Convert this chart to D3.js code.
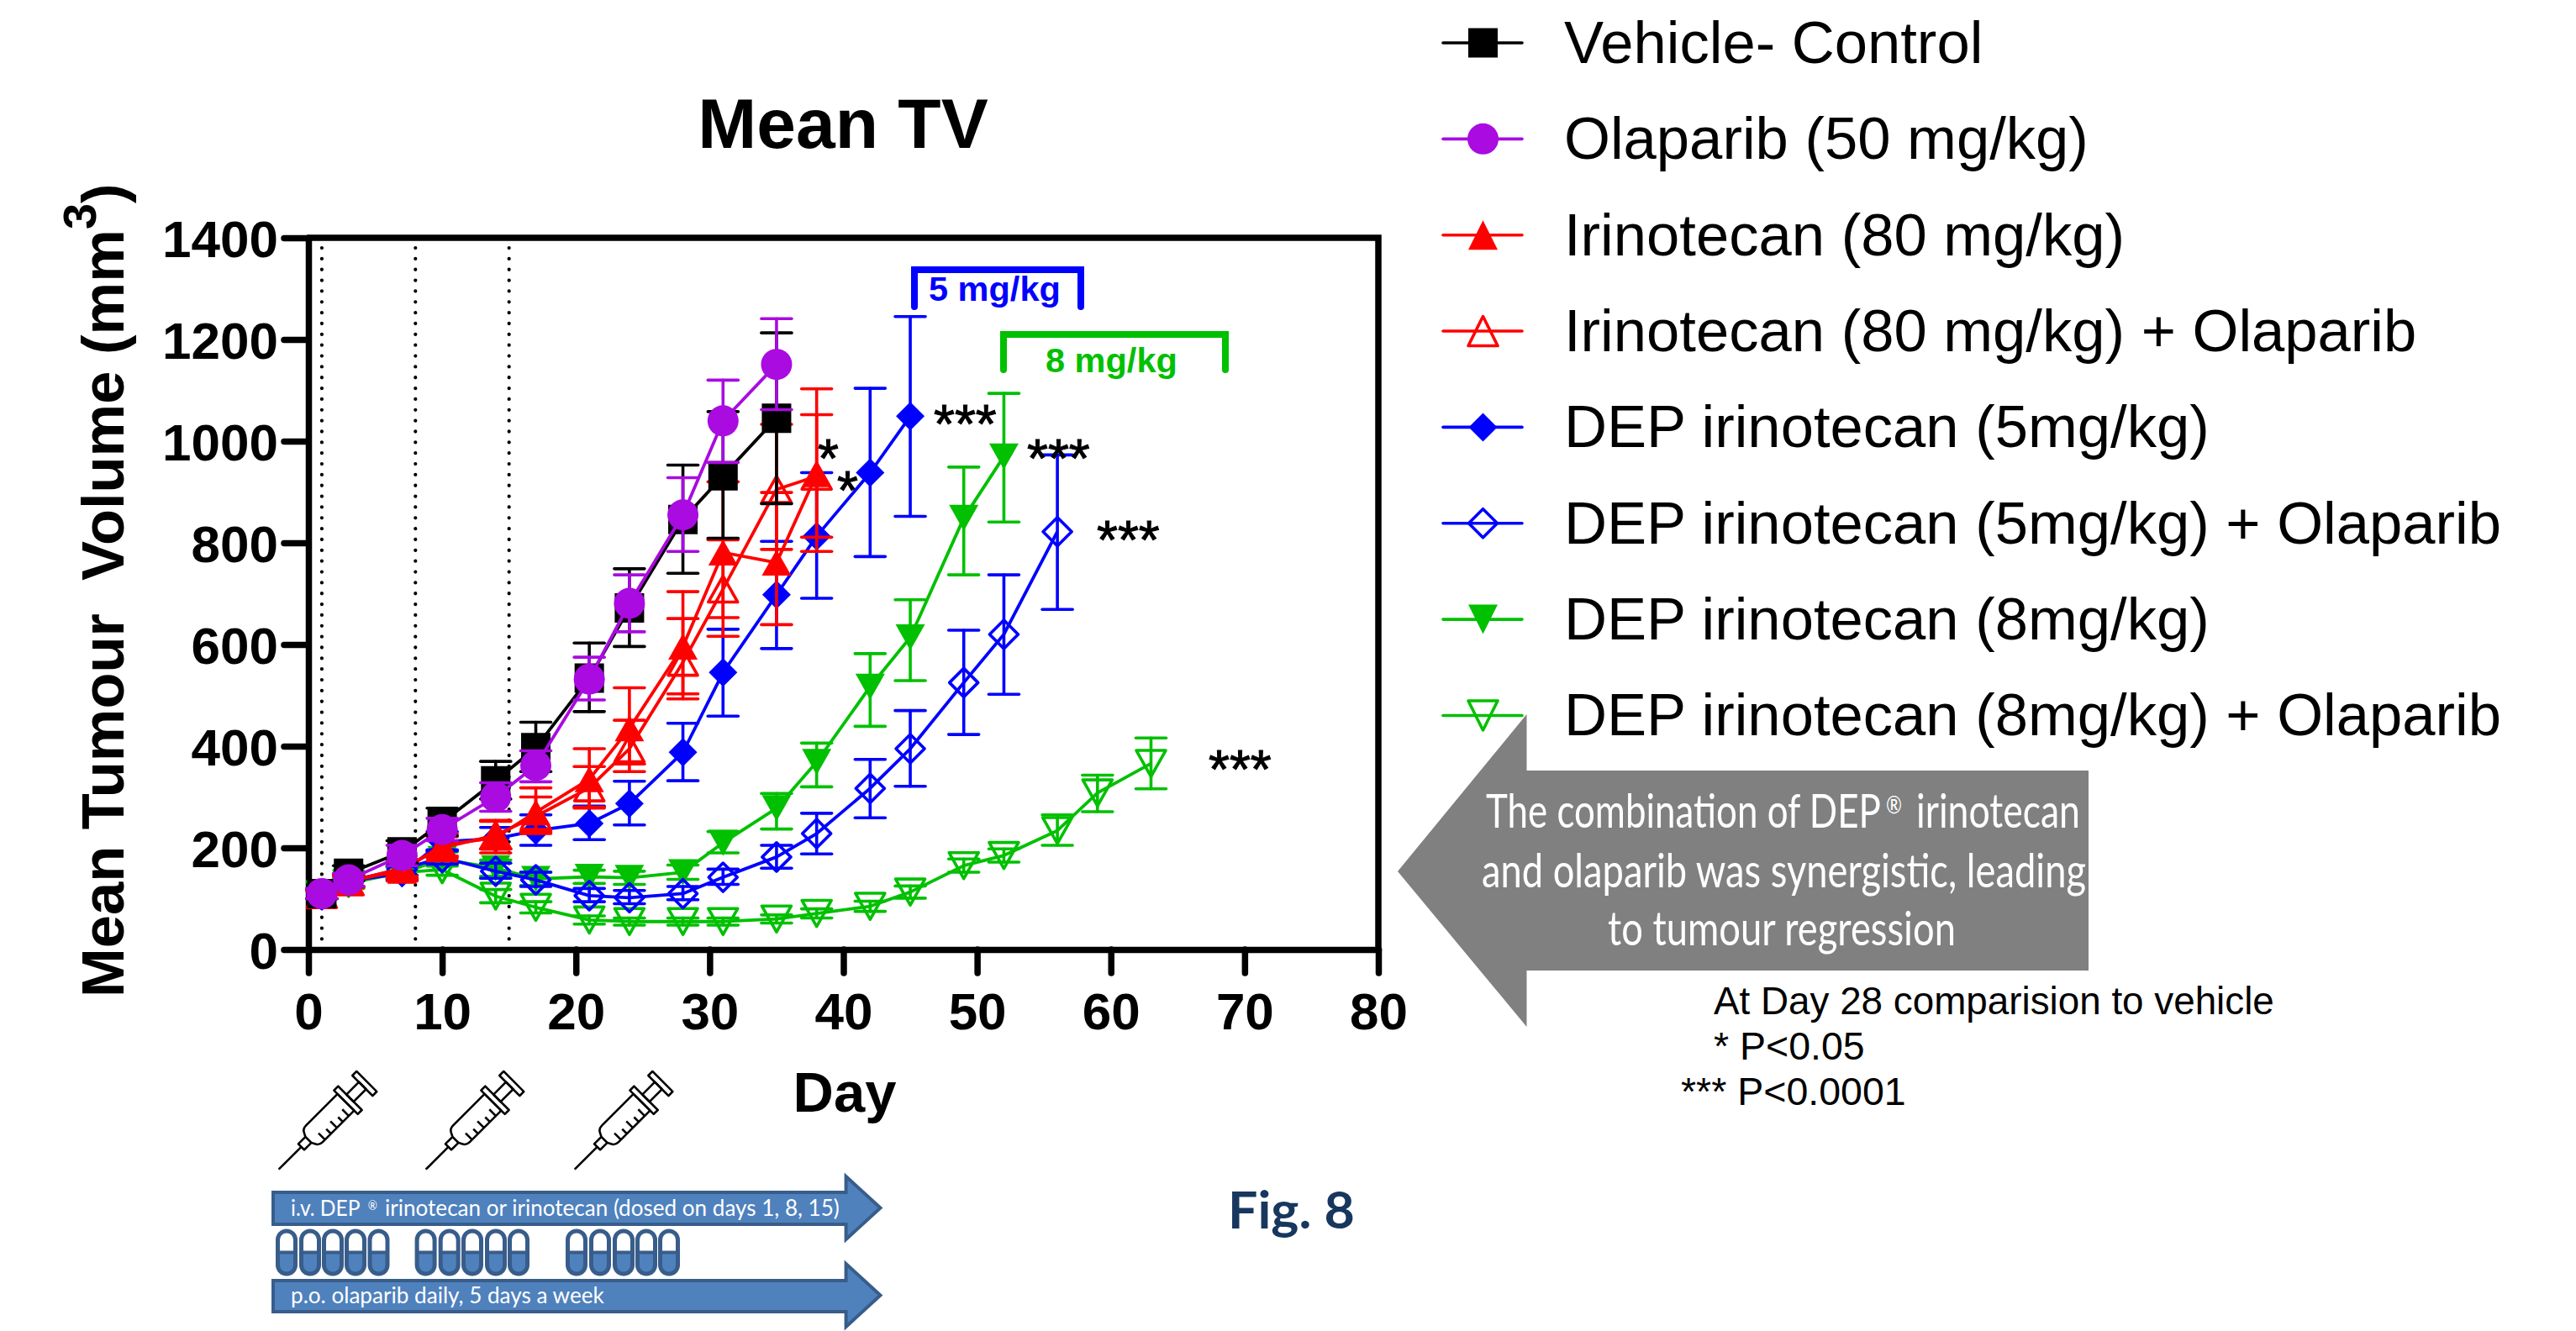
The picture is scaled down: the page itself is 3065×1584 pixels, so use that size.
<!DOCTYPE html>
<html><head><meta charset="utf-8">
<script src="https://cdn.jsdelivr.net/npm/d3@7"></script>
<style>html,body{margin:0;padding:0;background:#fff;overflow:hidden}svg{display:block}text{font-family:"Liberation Sans",Arial,sans-serif;white-space:pre}</style>
</head><body><svg id="c" width="3065" height="1584" xmlns="http://www.w3.org/2000/svg"></svg>
<script>
// ---- data ----
const days = [1,3,7,10,14,17,21,24,28,31,35,38,42,45,49,52,56,59,63];
const xTicks = [0,10,20,30,40,50,60,70,80];
const yTicks = [0,200,400,600,800,1000,1200,1400];
const doseDays = [1,8,15];

const vehicleMean = [110,150,192,250,332,397,534,672,846,932,1045];
const vehicleHi   = [120,165,214,278,370,447,603,749,953,1058,1213];
const vehicleLo   = [100,135,170,224,296,350,468,596,740,809,877];

const olaparibMean = [110,137,185,236,300,362,532,681,855,1040,1151];
const olaparibHi   = [120,150,205,258,328,391,575,737,928,1120,1241];
const olaparibLo   = [100,124,165,214,272,330,491,625,783,958,1062];

const irinoMean = [108,135,155,205,220,270,335,435,596,781,761,935];
const irinoHi   = [116,146,172,228,252,318,395,515,704,920,899,1103];
const irinoLo   = [100,124,140,184,190,232,280,365,493,616,639,783];

const irinoOlaMean = [108,133,160,200,225,262,318,395,565,709,905,931];
const irinoOlaHi   = [116,144,176,222,254,300,360,451,651,806,1033,1052];
const irinoOlaLo   = [100,122,144,180,198,228,278,350,503,653,787,811];

const dep5Mean = [108,135,150,212,218,234,248,287,388,545,698,813,938,1049];
const dep5Hi   = [116,146,164,232,240,265,282,331,445,630,803,938,1104,1245];
const dep5Lo   = [100,124,136,194,198,205,216,245,332,459,592,691,773,852];

const dep5OlaMean = [108,135,158,181,154,137,106,102,110,142,182,228,317,395,525,620,822];
const dep5OlaHi   = [116,146,170,196,170,152,120,116,124,158,205,268,374,470,628,737,973];
const dep5OlaLo   = [100,124,146,168,140,124,94,90,98,128,160,188,259,321,423,502,669];

const dep8Mean = [108,135,150,178,160,139,143,141,152,210,278,369,517,614,849,970];
const dep8Hi   = [116,146,162,192,176,152,156,154,166,232,307,406,582,688,949,1094];
const dep8Lo   = [100,124,138,164,144,126,130,128,138,190,237,320,439,529,737,841];

const dep8OlaMean = [108,130,152,157,105,83,58,55,55,55,60,71,85,113,165,185,234,308,366];
const dep8OlaHi   = [116,140,162,168,118,94,66,62,62,62,68,80,95,125,178,198,265,343,416];
const dep8OlaLo   = [100,120,142,146,92,72,50,48,48,48,52,62,75,101,152,172,205,271,316];

const legendLabels = ["Vehicle- Control","Olaparib (50 mg/kg)","Irinotecan (80 mg/kg)","Irinotecan (80 mg/kg) + Olaparib","DEP irinotecan (5mg/kg)","DEP irinotecan (5mg/kg) + Olaparib","DEP irinotecan (8mg/kg)","DEP irinotecan (8mg/kg) + Olaparib"];
const seriesColors = ["#000000","#A90BE0","#FF0000","#FF0000","#0000FF","#0000FF","#00C000","#00C000"];
const seriesShapes = ["square","circle","up","up","diamond","diamond","down","down"];
const seriesOpen = [false,false,false,true,false,true,false,true];
const seriesMeans = [vehicleMean,olaparibMean,irinoMean,irinoOlaMean,dep5Mean,dep5OlaMean,dep8Mean,dep8OlaMean];
const seriesHi = [vehicleHi,olaparibHi,irinoHi,irinoOlaHi,dep5Hi,dep5OlaHi,dep8Hi,dep8OlaHi];
const seriesLo = [vehicleLo,olaparibLo,irinoLo,irinoOlaLo,dep5Lo,dep5OlaLo,dep8Lo,dep8OlaLo];
const drawOrder = [7,6,5,4,3,2,0,1];
const noteLines = ["At Day 28 comparision to vehicle","* P<0.05","*** P<0.0001"];
const pillGroups = [[341,369,396,423,450.5],[506.6,534.7,562,590,617],[686,714,742,769,796]];
const syringeTipsX = [331.6,506.6,683.7];

// ---- layout ----
const svg = d3.select("#c");
const L=367,R=1640,T=283,B=1130;
const x = d3.scaleLinear().domain([0,80]).range([L,R]);
const y = d3.scaleLinear().domain([0,1400]).range([B,T]);
const bold = 700;

function tri(w,h,dir){const s=dir==="up"?1:-1;return `M0,${-s*h/2}L${w/2},${s*h/2}L${-w/2},${s*h/2}Z`;}
function shapePath(shape,big){
  if(shape==="square") return "M-17.5,-17.5H17.5V17.5H-17.5Z";
  if(shape==="circle") return d3.arc()({innerRadius:0,outerRadius:18.5,startAngle:0,endAngle:7});
  if(shape==="diamond") return "M0,-17L17,0L0,17L-17,0Z";
  return tri(35,big?35:31,shape);
}

// dotted dosing lines
svg.append("g").selectAll("line").data(doseDays).join("line")
  .attr("x1",d=>x(d)).attr("x2",d=>x(d)).attr("y1",295).attr("y2",B-2)
  .attr("stroke","#000").attr("stroke-width",4.2).attr("stroke-linecap","round").attr("stroke-dasharray","0.1 12.75");

// axes
const gy = svg.append("g").attr("transform",`translate(${L},0)`)
  .call(d3.axisLeft(y).tickValues(yTicks).tickFormat(d3.format("d")).tickSizeInner(29).tickSizeOuter(0).tickPadding(7));
const gx = svg.append("g").attr("transform",`translate(0,${B})`)
  .call(d3.axisBottom(x).tickValues(xTicks).tickFormat(d3.format("d")).tickSizeInner(28).tickSizeOuter(0).tickPadding(23));
[gx,gy].forEach(g=>{
  g.selectAll("line,path").attr("stroke","#000").attr("stroke-width",7.5).attr("stroke-linecap","round");
  g.selectAll("text").attr("fill","#000").attr("font-size",62).attr("font-weight",bold).style("font-family",'"Liberation Sans"');
});
gy.selectAll("text").attr("dy","0.36em");
svg.append("path").attr("d",`M${L},${y(1400)}H${x(80)}V${B}`).attr("fill","none").attr("stroke","#000").attr("stroke-width",7.5).attr("stroke-linecap","round");

// series, last dataset at the bottom
const line = d3.line();
drawOrder.forEach(i=>{
  const col=seriesColors[i], m=seriesMeans[i], open=seriesOpen[i];
  const g=svg.append("g");
  const pts=m.map((v,k)=>({d:days[k],v,hi:seriesHi[i][k],lo:seriesLo[i][k]}));
  g.append("path").attr("d",line(pts.map(p=>[x(p.d),y(p.v)]))).attr("fill","none").attr("stroke",col).attr("stroke-width",3.8).attr("stroke-linejoin","round");
  const e=g.append("g").selectAll("g").data(pts).join("g").attr("stroke",col).attr("stroke-width",3.6).attr("stroke-linecap","round");
  e.append("line").attr("x1",p=>x(p.d)).attr("x2",p=>x(p.d)).attr("y1",p=>y(p.hi)).attr("y2",p=>y(p.lo));
  e.append("line").attr("x1",p=>x(p.d)-18).attr("x2",p=>x(p.d)+18).attr("y1",p=>y(p.hi)).attr("y2",p=>y(p.hi));
  e.append("line").attr("x1",p=>x(p.d)-18).attr("x2",p=>x(p.d)+18).attr("y1",p=>y(p.lo)).attr("y2",p=>y(p.lo));
  g.append("g").selectAll("path").data(pts).join("path")
    .attr("transform",p=>`translate(${x(p.d)},${y(p.v)})`)
    .attr("d",shapePath(seriesShapes[i],false))
    .attr("fill",open?"none":col).attr("stroke",open?col:"none").attr("stroke-width",3.6).attr("stroke-linejoin","round");
});

// titles
svg.append("text").attr("x",1003).attr("y",176).attr("text-anchor","middle").attr("font-size",84).attr("font-weight",bold).text("Mean TV");
svg.append("text").attr("x",1005).attr("y",1323).attr("text-anchor","middle").attr("font-size",67).attr("font-weight",bold).text("Day");
const yt=svg.append("text").attr("transform","translate(147,1187) rotate(-90)").attr("font-size",70.5).attr("font-weight",bold);
yt.append("tspan").text("Mean Tumour  Volume (mm");
yt.append("tspan").attr("dy",-33).attr("font-size",56).text("3");
yt.append("tspan").attr("dy",33).text(")");

// legend
legendLabels.forEach((t,i)=>{
  const ly=51+i*114.35, g=svg.append("g"), c=seriesColors[i], o=seriesOpen[i];
  g.append("line").attr("x1",1717).attr("x2",1811).attr("y1",ly).attr("y2",ly).attr("stroke",c).attr("stroke-width",3.6).attr("stroke-linecap","round");
  g.append("path").attr("transform",`translate(1764.5,${ly})`).attr("d",shapePath(seriesShapes[i],true)).attr("fill",o?"none":c).attr("stroke",o?c:"none").attr("stroke-width",3.6).attr("stroke-linejoin","round");
  g.append("text").attr("x",1861).attr("y",ly+24).attr("font-size",70.6).text(t);
});

// brackets
function bracket(x0,x1,t,b,c,label,lx,ly){
  svg.append("path").attr("d",`M${x0},${b}V${t}H${x1}V${b}`).attr("fill","none").attr("stroke",c).attr("stroke-width",8).attr("stroke-linecap","round");
  svg.append("text").attr("x",lx).attr("y",ly).attr("font-size",41.5).attr("font-weight",bold).attr("fill",c).text(label);
}
bracket(1088,1286,321,365,"#0000FF","5 mg/kg",1105,358);
bracket(1194,1458,398,440,"#00C000","8 mg/kg",1244,443);

// asterisks
[[1112,527,"***"],[1223,568,"***"],[1306,665,"***"],[1439,938,"***"],[974,568,"*"],[997,606,"*"]].forEach(a=>{
  svg.append("text").attr("x",a[0]-1).attr("y",a[1]).attr("font-size",64).attr("fill","#000").attr("stroke","#000").attr("stroke-width",1).text(a[2]);
});

// callout arrow
svg.append("path").attr("d","M1663,1037L1816.5,850V917H2485V1155H1816.5V1222Z").attr("fill","#808080");
// condensed text: squeeze horizontally to the width seen in the picture
function fit(x0,y0,len,size,fill,str,weight,family){
  const t=svg.append("text").attr("fill",fill).attr("font-size",size).attr("font-weight",weight||400).style("font-family",family||"Lato").text(str);
  const w=t.node().getComputedTextLength();
  t.attr("transform",`translate(${x0},${y0}) scale(${len/w},1)`);
}
fit(1768,985,470,57,"#fff","The combination of DEP");
fit(2244,968,19,28,"#fff","®");
fit(2280,985,195,57,"#fff","irinotecan");
fit(1763,1056,719,57,"#fff","and olaparib was synergistic, leading");
fit(1913,1125,414,57,"#fff","to tumour regression");

// notes
fit(2039,1207,667,46.5,"#000",noteLines[0],400,'"Liberation Sans"');
svg.append("text").attr("x",2039).attr("y",1261).attr("font-size",46.5).text(noteLines[1]);
svg.append("text").attr("x",2000).attr("y",1315).attr("font-size",46.5).text(noteLines[2]);

// Fig. 8
fit(1461,1462,151,62,"#17375E","Fig. 8",bold);

// syringes
syringeTipsX.forEach(tx=>{
  const g=svg.append("g").attr("transform",`translate(${tx},1391.7) rotate(-45)`).attr("fill","none").attr("stroke","#000").attr("stroke-width",2.6).attr("stroke-linejoin","round");
  g.append("path").attr("d","M0,0H38");
  g.append("path").attr("d","M38,-5H50V5H38Z");
  g.append("path").attr("d","M50,-5L52,-9Q54,-14 60,-14H113V14H60Q54,14 52,9L50,5");
  g.append("path").attr("d","M64,14V3M74,14V6M84,14V3M94,14V6M104,14V3");
  g.append("path").attr("d","M113,-20H120V20H113Z");
  g.append("path").attr("d","M120,-6H141V6H120Z");
  g.append("path").attr("d","M141,-17H148V17H141Z");
});

// regimen arrows
function regimen(sTop,sBot,hTop,hBot){
  const mid=(hTop+hBot)/2;
  svg.append("path").attr("d",`M325,${sTop}H1006.6V${hTop}L1047.5,${mid}L1006.6,${hBot}V${sBot}H325Z`).attr("fill","#4F81BD").attr("stroke","#385D8A").attr("stroke-width",4);
}
regimen(1419,1457,1400,1475);
regimen(1524,1561,1504,1579);
fit(346,1447,82.6,27,"#fff","i.v. DEP");
fit(437.8,1440,11.2,15,"#fff","®");
fit(458,1447,541,27,"#fff","irinotecan or irinotecan (dosed on days 1, 8, 15)");
fit(346,1551,373,27,"#fff","p.o. olaparib daily, 5 days a week");

// pills
pillGroups.flat().forEach(cx=>{
  const g=svg.append("g").attr("transform",`translate(${cx},1490.5)`);
  g.append("rect").attr("x",-10.5).attr("y",-25.5).attr("width",21).attr("height",51).attr("rx",10.5).attr("fill","#fff");
  g.append("path").attr("d","M-10.5,0H10.5V15A10.5,10.5 0 0 1 -10.5,15Z").attr("fill","#4F81BD");
  g.append("rect").attr("x",-10.5).attr("y",-25.5).attr("width",21).attr("height",51).attr("rx",10.5).attr("fill","none").attr("stroke","#385D8A").attr("stroke-width",5);
  g.append("line").attr("x1",-10.5).attr("x2",10.5).attr("y1",0).attr("y2",0).attr("stroke","#385D8A").attr("stroke-width",4);
});
</script></body></html>
